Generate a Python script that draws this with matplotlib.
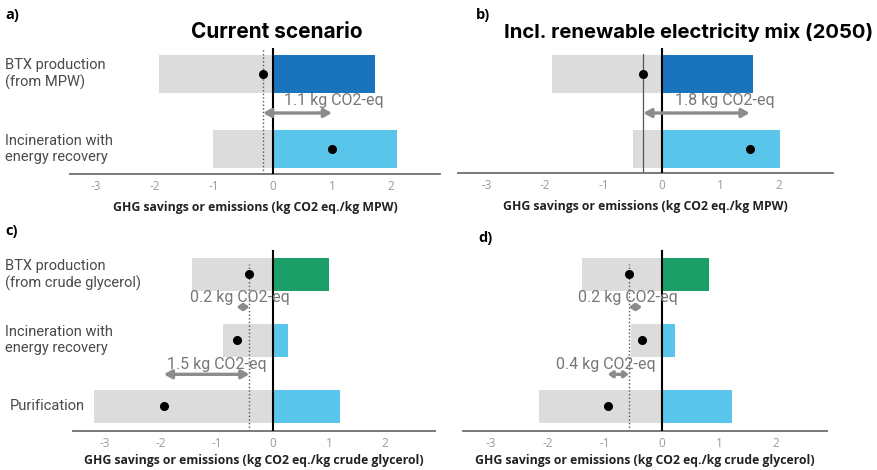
import matplotlib
matplotlib.use("Agg")
import matplotlib.pyplot as plt

plt.rcParams['font.family'] = ['Open Sans', 'DejaVu Sans']

# ---------------- data ----------------
cats_mpw = ["BTX production\n(from MPW)", "Incineration with\nenergy recovery"]
cats_gly = ["BTX production\n(from crude glycerol)", "Incineration with\nenergy recovery", "Purification"]

a_savings = [-1.93, -1.02]
a_emissions = [1.73, 2.10]
a_net = [-0.17, 1.00]

b_savings = [-1.88, -0.50]
b_emissions = [1.56, 2.02]
b_net = [-0.32, 1.50]

c_savings = [-1.45, -0.90, -3.20]
c_emissions = [1.00, 0.27, 1.20]
c_net = [-0.42, -0.65, -1.95]

d_savings = [-1.40, -0.55, -2.15]
d_emissions = [0.82, 0.23, 1.22]
d_net = [-0.58, -0.35, -0.95]

a_diff_labels = ["1.1 kg CO2-eq"]
b_diff_labels = ["1.8 kg CO2-eq"]
c_diff_labels = ["0.2 kg CO2-eq", "1.5 kg CO2-eq"]
d_diff_labels = ["0.2 kg CO2-eq", "0.4 kg CO2-eq"]

xticks = [-3, -2, -1, 0, 1, 2]
xlabel_mpw = "GHG savings or emissions (kg CO2 eq./kg MPW)"
xlabel_gly = "GHG savings or emissions (kg CO2 eq./kg crude glycerol)"

# ---------------- style ----------------
W, H = 878, 470
GREY = "#dcdcdc"
DARKBLUE = "#1a74bd"
LIGHTBLUE = "#5ac5ea"
GREEN = "#1b9e68"
ARROW = "#8c8c8c"

fig = plt.figure(figsize=(W / 100, H / 100), dpi=100)


def make_ax(x0, x1, ytop, ybot, zero_px, scale, n, first_px, step_px):
    ax = fig.add_axes([x0 / W, 1 - ybot / H, (x1 - x0) / W, (ybot - ytop) / H])
    ax.set_xlim((x0 - zero_px) / scale, (x1 - zero_px) / scale)
    ax.set_ylim(n - 1 + (ybot - (first_px + (n - 1) * step_px)) / step_px,
                (ytop - first_px) / step_px)
    for s in ["top", "right", "left"]:
        ax.spines[s].set_visible(False)
    ax.spines["bottom"].set_color("#6e6e6e")
    ax.spines["bottom"].set_linewidth(1.3)
    ax.set_yticks([])
    ax.set_xticks(xticks)
    ax.set_xticklabels([str(t) for t in xticks])
    ax.tick_params(axis="x", length=0, pad=4, labelsize=8.5, labelcolor="#9a9a9a")
    ax.patch.set_alpha(0)
    return ax


def draw(ax, savings, emissions, net, colors, ref_style, zero_top, ref_top, bar_h):
    ys = list(range(len(savings)))
    ax.barh(ys, savings, height=bar_h, color=GREY, zorder=1)
    ax.barh(ys, emissions, height=bar_h, color=colors, zorder=1)
    ax.axvline(0, ymin=0, ymax=zero_top, color="black", lw=1.5, zorder=3)
    ax.axvline(net[0], ymin=0, ymax=ref_top, color="#555555", zorder=2, **ref_style)
    ax.plot(net, ys, "o", color="black", ms=5.5, zorder=5)


def arrows(ax, net, labels, ypos, label_x, label_dy=0.17):
    for i, lab in enumerate(labels):
        y = ypos[i]
        short = abs(net[i + 1] - net[0]) < 0.5
        style = ("<|-|>,head_length=0.25,head_width=0.18" if short
                 else "<|-|>,head_length=0.45,head_width=0.25")
        ax.annotate("", xy=(net[i + 1], y), xytext=(net[0], y),
                    arrowprops=dict(arrowstyle=style,
                                    color=ARROW, lw=2.4, shrinkA=0, shrinkB=0), zorder=4)
        ax.text(label_x[i], y - label_dy, lab, ha="center", va="center",
                fontsize=11.5, color="#777777", family=["Roboto", "DejaVu Sans"], zorder=6)


dotted = dict(linestyle=(0, (1, 1.6)), lw=1.0)
thin = dict(linestyle="-", lw=0.9)
xl_kw = dict(fontweight="bold", color="#222222")

# panel a
axa = make_ax(70, 440, 48, 174, 273, 59, 2, 74, 75)
draw(axa, a_savings, a_emissions, a_net, [DARKBLUE, LIGHTBLUE], dotted, 1.0, 1.0, 0.5)
arrows(axa, a_net, a_diff_labels, [0.52], [1.03])
axa.set_xlabel(xlabel_mpw, fontsize=8.8, labelpad=6, **xl_kw)

# panel b
axb = make_ax(458, 833, 48, 173, 662, 58.5, 2, 74, 75)
draw(axb, b_savings, b_emissions, b_net, [DARKBLUE, LIGHTBLUE], thin, 1.0, 0.95, 0.5)
arrows(axb, b_net, b_diff_labels, [0.52], [1.08])
axb.set_xlabel(xlabel_mpw, fontsize=8.8, labelpad=6, **xl_kw)

# panel c
axc = make_ax(73, 435, 245, 431, 273, 56, 3, 274, 66)
draw(axc, c_savings, c_emissions, c_net, [GREEN, LIGHTBLUE, LIGHTBLUE], dotted, 0.97, 0.9, 0.5)
arrows(axc, c_net, c_diff_labels, [0.5, 1.52], [-0.6, -1.0], label_dy=0.15)
axc.set_xlabel(xlabel_gly, fontsize=8.8, labelpad=3, **xl_kw)

# panel d
axd = make_ax(463, 827, 245, 431, 662, 57, 3, 274, 66)
draw(axd, d_savings, d_emissions, d_net, [GREEN, LIGHTBLUE, LIGHTBLUE], dotted, 0.97, 0.9, 0.5)
arrows(axd, d_net, d_diff_labels, [0.5, 1.52], [-0.6, -0.98], label_dy=0.15)
axd.set_xlabel(xlabel_gly, fontsize=8.8, labelpad=3, **xl_kw)

# category labels
lab_kw = dict(fontsize=10.5, color="#4a4a4a", ha="left", va="center",
              family=["Roboto", "DejaVu Sans"], linespacing=1.2)
for i, c in enumerate(cats_mpw):
    axa.text(5 / W, 1 - (74 + 75 * i) / H, c, transform=fig.transFigure, **lab_kw)
for i, c in enumerate(cats_gly):
    axc.text(5 / W if i < 2 else 10 / W, 1 - [275, 340, 406][i] / H, c,
             transform=fig.transFigure, **lab_kw)

# titles and panel letters
title_kw = dict(fontweight="bold", color="black", ha="center", va="center",
                family=["Inter", "DejaVu Sans"])
fig.text(277 / W, 1 - 32 / H, "Current scenario", fontsize=15, **title_kw)
fig.text(689 / W, 1 - 33 / H, "Incl. renewable electricity mix (2050)", fontsize=14.6, **title_kw)

pl_kw = dict(fontsize=10.5, fontweight="bold", color="black", ha="left", va="center")
fig.text(5 / W, 1 - 15 / H, "a)", **pl_kw)
fig.text(476 / W, 1 - 15 / H, "b)", **pl_kw)
fig.text(5 / W, 1 - 231 / H, "c)", **pl_kw)
fig.text(478 / W, 1 - 238 / H, "d)", **pl_kw)

fig.savefig("out.png", dpi=100)
